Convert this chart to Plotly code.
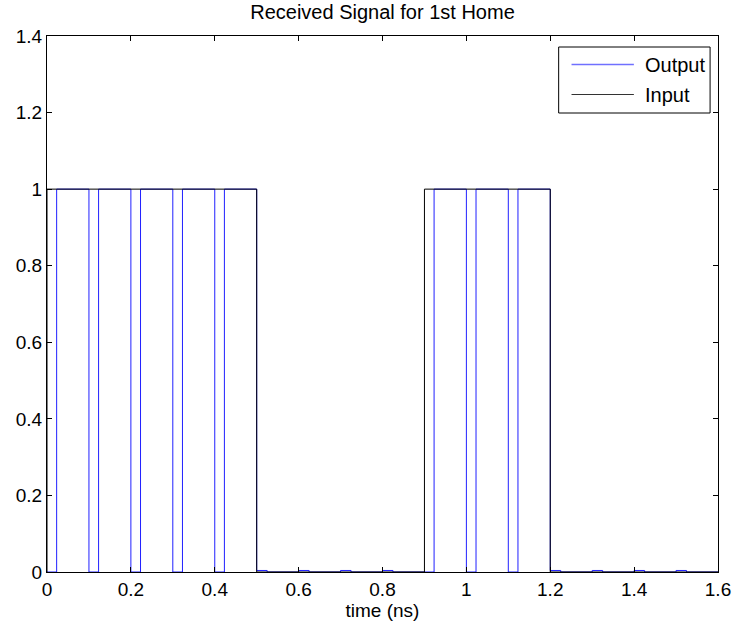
import plotly.graph_objects as go

# ---- data ----
t_out = [0, 0.023, 0.1, 0.123, 0.2, 0.223, 0.3, 0.323, 0.4, 0.423,
         0.5, 0.525, 0.6, 0.625, 0.7, 0.725, 0.8, 0.825,
         0.9, 0.923, 1.0, 1.023, 1.1, 1.123,
         1.2, 1.225, 1.3, 1.325, 1.4, 1.425, 1.5, 1.525, 1.6]
y_out = [0, 1, 0, 1, 0, 1, 0, 1, 0, 1,
         0.004, 0, 0.004, 0, 0.004, 0, 0.004, 0,
         0, 1, 0, 1, 0, 1,
         0.004, 0, 0.004, 0, 0.004, 0, 0.004, 0, 0]
t_in = [0, 0, 0.5, 0.9, 1.2, 1.6]
y_in = [0, 1, 0, 1, 0, 0]

x_ticks = [0, 0.2, 0.4, 0.6, 0.8, 1.0, 1.2, 1.4, 1.6]
x_labels = ["0", "0.2", "0.4", "0.6", "0.8", "1", "1.2", "1.4", "1.6"]
y_ticks = [0, 0.2, 0.4, 0.6, 0.8, 1.0, 1.2, 1.4]
y_labels = ["0", "0.2", "0.4", "0.6", "0.8", "1", "1.2", "1.4"]

title_text = "Received Signal for 1st Home"
xlabel_text = "time (ns)"
legend_names = ["Output", "Input"]

# ---- layout geometry ----
W, H = 743, 633
L, R, T, B = 47, 18, 36, 61
PW, PH = W - L - R, H - T - B
FONT = "Arial, Liberation Sans, sans-serif"
FS = 19
FS_T = 20


def px(x):
    return (x - L) / PW


def py(y):
    return (H - B - y) / PH


fig = go.Figure()
fig.add_trace(go.Scatter(x=t_out, y=y_out, mode="lines", line_shape="hv",
                         line=dict(color="#2020ff", width=1), name=legend_names[0],
                         showlegend=False))
fig.add_trace(go.Scatter(x=t_in, y=y_in, mode="lines", line_shape="hv",
                         line=dict(color="#000000", width=1), name=legend_names[1],
                         showlegend=False))

axis_common = dict(showline=True, linecolor="black", linewidth=1, mirror="ticks",
                   ticks="inside", ticklen=5, tickcolor="black", tickwidth=1,
                   showgrid=False, zeroline=False,
                   tickfont=dict(family=FONT, size=FS, color="black"))

fig.update_xaxes(range=[0, 1.6], tickvals=x_ticks, ticktext=x_labels,
                 title=dict(text=xlabel_text, font=dict(family=FONT, size=FS, color="black"),
                            standoff=4),
                 **axis_common)
fig.update_yaxes(range=[0, 1.4], tickvals=y_ticks, ticktext=y_labels, **axis_common)

shapes = [
    dict(type="rect", xref="paper", yref="paper", x0=px(564), x1=px(717),
         y0=py(113), y1=py(47), line=dict(color="black", width=1), fillcolor="white",
         layer="above"),
    dict(type="line", xref="paper", yref="paper", x0=px(577), x1=px(640),
         y0=py(64.5), y1=py(64.5), line=dict(color="#7070ff", width=1.3), layer="above"),
    dict(type="line", xref="paper", yref="paper", x0=px(577), x1=px(640),
         y0=py(94.5), y1=py(94.5), line=dict(color="#333333", width=1), layer="above"),
]
annotations = [
    dict(text=legend_names[0], xref="paper", yref="paper", x=px(649), y=py(65),
         xanchor="left", yanchor="middle", showarrow=False,
         font=dict(family=FONT, size=FS_T, color="black")),
    dict(text=legend_names[1], xref="paper", yref="paper", x=px(649), y=py(95),
         xanchor="left", yanchor="middle", showarrow=False,
         font=dict(family=FONT, size=FS_T, color="black")),
]

fig.update_layout(
    width=W, height=H,
    margin=dict(l=L, r=R, t=T, b=B, pad=0),
    paper_bgcolor="white", plot_bgcolor="white",
    title=dict(text=title_text, x=0.5, xref="paper", y=1 - 12 / H, yref="container",
               xanchor="center", yanchor="middle",
               font=dict(family=FONT, size=FS_T, color="black")),
    shapes=shapes, annotations=annotations,
    showlegend=False,
)

fig.write_html("out.html")
